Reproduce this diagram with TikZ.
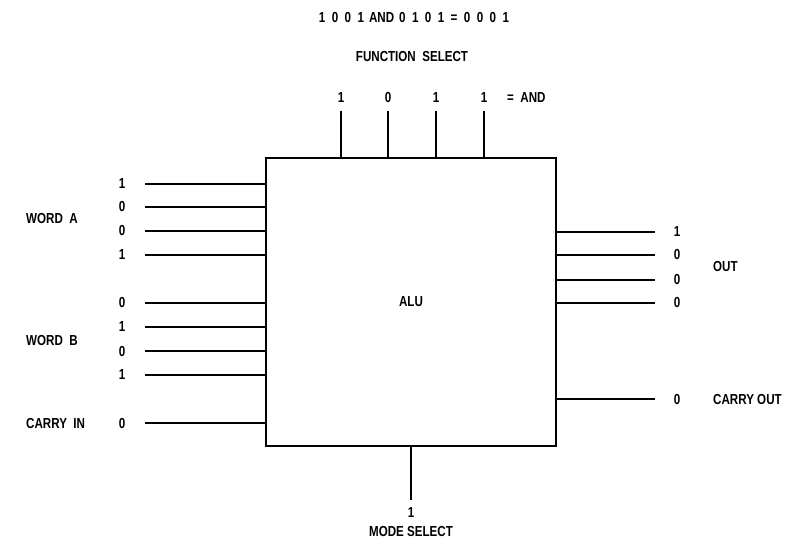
\documentclass[tikz,border=0pt]{standalone}
\usepackage{fontspec}
\setmainfont{Liberation Sans}[FakeStretch=0.8]
\usetikzlibrary{positioning}

\begin{document}
\begin{tikzpicture}[
  x=1pt, y=-1pt,
  font=\fontsize{14.5}{16}\selectfont\bfseries,
  alubox/.style={
    draw, line width=1.3pt,
    minimum width=290pt, minimum height=288pt, inner sep=0pt
  },
  bit/.style={inner sep=1pt},
  labl/.style={inner sep=1pt, anchor=west},
  pin/.style={line width=1.5pt}
]

\useasboundingbox (0,0) rectangle (791,544);

\node[alubox] (alu) at (411, 302) {ALU};

% function select
\node (eqn) at (414, 18) {1\ \ 0\ \ 0\ \ 1\hspace{5pt}AND\hspace{5pt}0\ \ 1\ \ 0\ \ 1\ \ =\ \ 0\ \ 0\ \ 0\ \ 1};
\node (fsel) at (412, 57) {FUNCTION\ \ SELECT};
\node[bit] (f1) at (341, 98) {1};
\node[bit] (f2) at (388, 98) {0};
\node[bit] (f3) at (436, 98) {1};
\node[bit] (f4) at (484, 98) {1};
\node[labl] (fand) at (506, 98) {=\ \ AND};

\draw[pin, shorten >=7pt] (alu.north -| f1) -- (f1.south);
\draw[pin, shorten >=7pt] (alu.north -| f2) -- (f2.south);
\draw[pin, shorten >=7pt] (alu.north -| f3) -- (f3.south);
\draw[pin, shorten >=7pt] (alu.north -| f4) -- (f4.south);

% word A
\node[bit] (a1) at (122, 184) {1};
\node[bit] (a2) at (122, 207) {0};
\node[bit] (a3) at (122, 231) {0};
\node[bit] (a4) at (122, 255) {1};
\node[labl] (worda) at (25, 219) {WORD\ \ A};

% word B
\node[bit] (b1) at (122, 303) {0};
\node[bit] (b2) at (122, 327) {1};
\node[bit] (b3) at (122, 351) {0};
\node[bit] (b4) at (122, 375) {1};
\node[labl] (wordb) at (25, 340) {WORD\ \ B};

% carry in
\node[bit] (cin) at (122, 423) {0};
\node[labl] (carryin) at (25, 423) {CARRY\ \ IN};

\foreach \n in {a1,a2,a3,a4,b1,b2,b3,b4,cin}
  \draw[pin, shorten <=19pt] (\n.east) -- (alu.west |- \n);

% outputs
\node[bit] (o1) at (677, 232) {1};
\node[bit] (o2) at (677, 255) {0};
\node[bit] (o3) at (677, 280) {0};
\node[bit] (o4) at (677, 303) {0};
\node[labl] (out) at (712, 267) {OUT};

\node[bit] (cout) at (677, 399) {0};
\node[labl] (carryout) at (712, 399) {CARRY OUT};

\foreach \n in {o1,o2,o3,o4,cout}
  \draw[pin, shorten >=18pt] (alu.east |- \n) -- (\n.west);

% mode select
\node[bit] (mode) at (411, 513) {1};
\node (msel) at (411, 531) {MODE SELECT};
\draw[pin, shorten >=7pt] (alu.south) -- (mode.north);

\end{tikzpicture}
\end{document}
